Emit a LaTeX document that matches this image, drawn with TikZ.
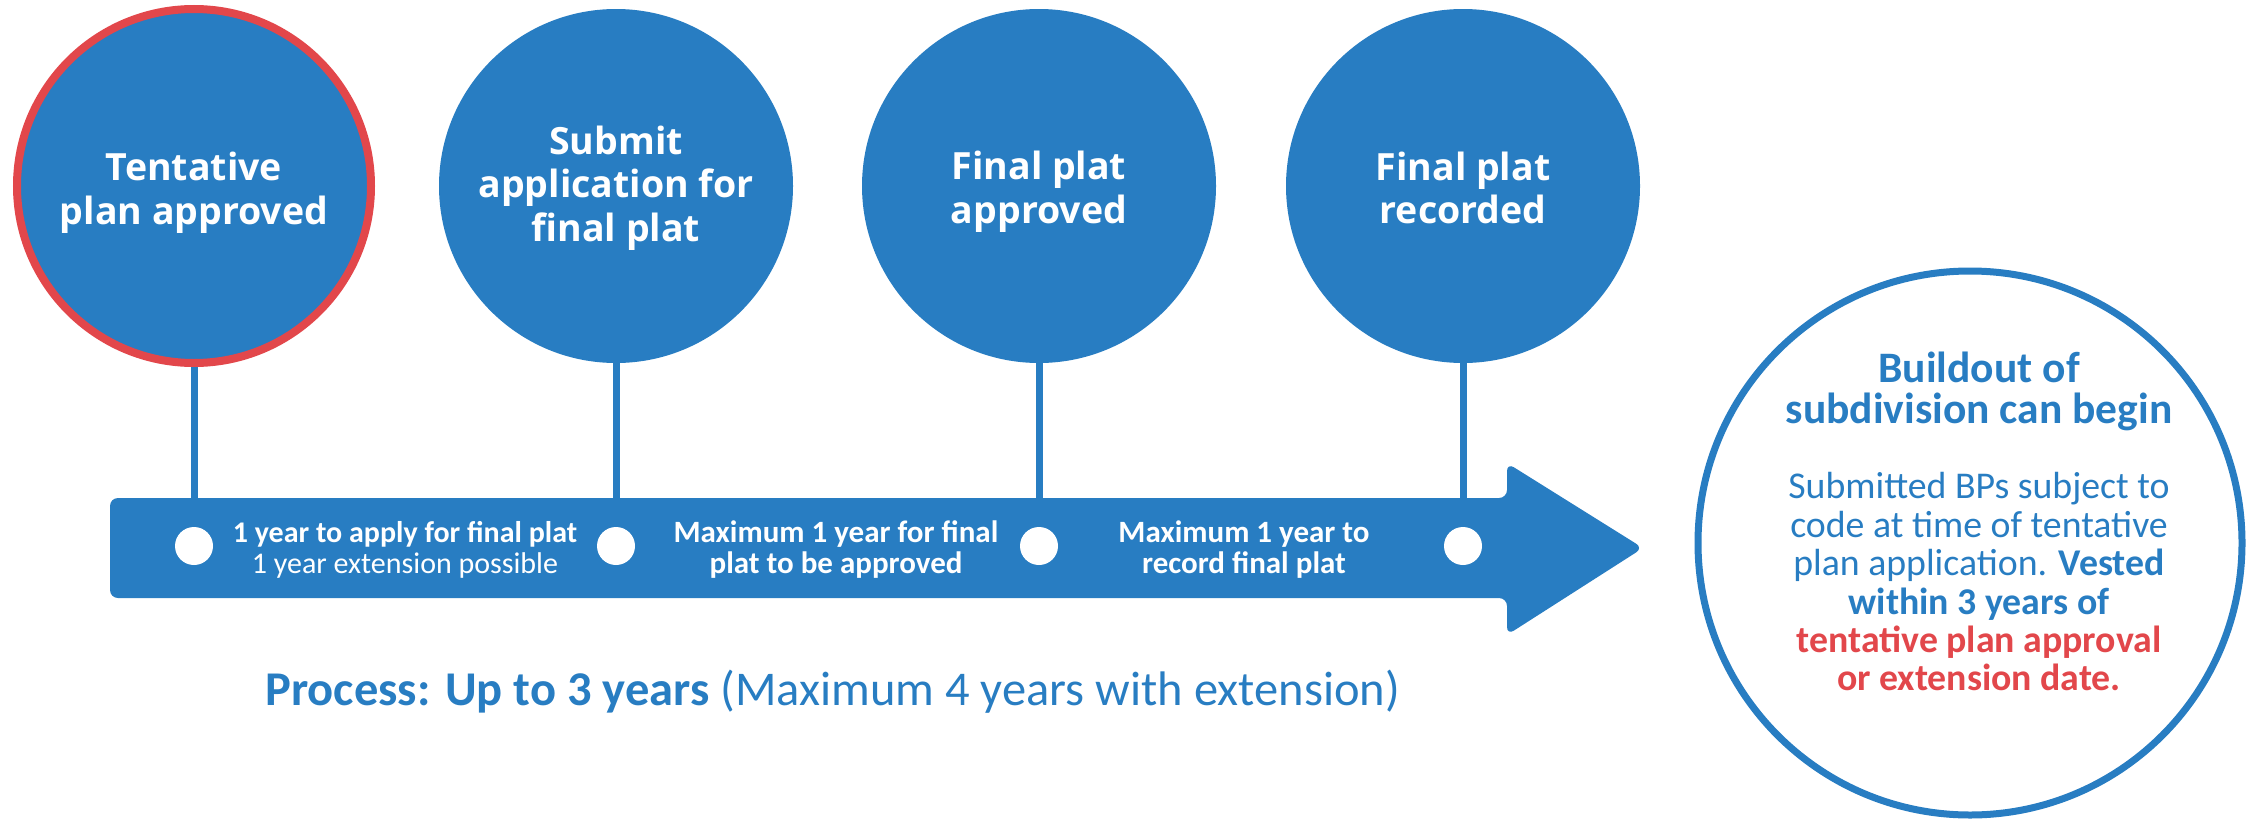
\documentclass[tikz,border=0pt]{standalone}
\usepackage{fontspec}
\setmainfont{Carlito}
\newfontfamily\opensans{Open Sans}
\definecolor{bl}{HTML}{287DC2}
\definecolor{rd}{HTML}{E2474B}
\tikzset{
  stepcirc/.style={circle, fill=bl, minimum size=354pt, inner sep=0pt},
  circtext/.style={text=white, align=center, inner sep=0pt, font=\opensans\bfseries\fontsize{37.5}{43.5}\selectfont},
  stem/.style={draw=bl, line width=7pt},
  wdot/.style={circle, fill=white, minimum size=38pt, inner sep=0pt},
  bartext/.style={text=white, align=center, inner sep=0pt, font=\bfseries\fontsize{31}{31}\selectfont},
}
\begin{document}
\begin{tikzpicture}[x=1pt,y=-1pt]
\useasboundingbox (0,0) rectangle (2248,819);
% bar and arrow
\fill[bl, rounded corners=8pt] (110,498) -- (1507,498) -- (1507,463) -- (1643,548) -- (1507,635) -- (1507,598) -- (110,598) -- cycle;
% circles
\node[stepcirc, draw=rd, line width=8pt] (c1) at (194,186) {};
\node[stepcirc] (c2) at (616,186) {};
\node[stepcirc] (c3) at (1039,186) {};
\node[stepcirc] (c4) at (1463,186) {};
\node[circtext] (l1) at (194,193) {Tentative\\plan approved};
\node[circtext] (l2) at (616,188) {Submit\\application for\\final plat};
\node[circtext] (l3) at (1039,192) {Final plat\\approved};
\node[circtext] (l4) at (1463,188) {Final plat\\recorded};
% dots
\node[wdot] (d1) at (194,546) {};
\node[wdot] (d2) at (616,546) {};
\node[wdot] (d3) at (1039,546) {};
\node[wdot] (d4) at (1463,546) {};
% stems
\draw[stem] (c1.south) -- (194,498);
\draw[stem] (c2.south) -- (616,498);
\draw[stem] (c3.south) -- (1039,498);
\draw[stem] (c4.south) -- (1463,498);
% bar texts
\node[bartext, font=\fontsize{30}{31}\selectfont] (t1) at (405,550) {\textbf{1 year to apply for final plat}\\1 year extension possible};
\node[bartext] (t2) at (836,550) {Maximum 1 year for final\\plat to be approved};
\node[bartext] (t3) at (1244,550) {Maximum 1 year to\\record final plat};
% process text
\node[text=bl, anchor=base west, font=\fontsize{48.5}{50}\selectfont, inner sep=0pt] (proc) at (265,705) {\textbf{Process: Up to 3 years} (Maximum 4 years with extension)};
% right circle
\node[circle, draw=bl, line width=7pt, minimum size=544pt, inner sep=0pt] (goal) at (1970,543) {};
\node[text=bl, align=center, inner sep=0pt, font=\bfseries\fontsize{43.5}{41}\selectfont] (h) at (1979,391) {Buildout of\\subdivision can begin};
\node[text=bl, align=center, inner sep=0pt, font=\fontsize{37.8}{38.4}\selectfont] (b) at (1979,582) {Submitted BPs subject to\\code at time of tentative\\plan application. \textbf{Vested}\\\textbf{within 3 years of}\\\textcolor{rd}{\textbf{tentative plan approval}}\\\textcolor{rd}{\textbf{or extension date.}}};
\end{tikzpicture}
\end{document}
